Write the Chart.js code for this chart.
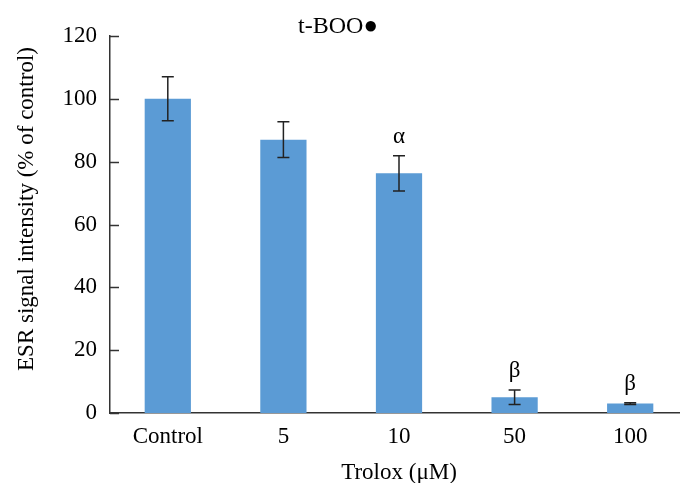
<!DOCTYPE html>
<html>
<head>
<meta charset="utf-8">
<script src="https://cdn.jsdelivr.net/npm/chart.js@4"></script>
<style>
  body { margin: 0; background: #fff; }
  #wrap { width: 680px; height: 483px; overflow: hidden; }
</style>
</head>
<body>
<div id="wrap"><canvas id="myChart" width="690" height="483"></canvas></div>
<script>
var categories = ["Control", "5", "10", "50", "100"];
var values = [100, 87, 76.3, 5, 3];
var errors = [7, 5.7, 5.6, 2.3, 0.3];
var marks = ["", "", "α", "β", "β"];
var yTicks = [0, 20, 40, 60, 80, 100, 120];

var serif = '"Liberation Serif", "Times New Roman", serif';
var ink = "#333";

// error bars, significance letters, inward y ticks and the texts
var extras = {
  id: "extras",
  afterDatasetsDraw(chart) {
    var ctx = chart.ctx;
    var y = chart.scales.y;
    var area = chart.chartArea;
    var bars = chart.getDatasetMeta(0).data;
    ctx.save();
    ctx.strokeStyle = "#222";
    ctx.lineWidth = 1.5;
    bars.forEach(function (bar, i) {
      var top = y.getPixelForValue(values[i] + errors[i]);
      var bot = y.getPixelForValue(values[i] - errors[i]);
      ctx.beginPath();
      ctx.moveTo(bar.x, top); ctx.lineTo(bar.x, bot);
      ctx.moveTo(bar.x - 6, top); ctx.lineTo(bar.x + 6, top);
      ctx.moveTo(bar.x - 6, bot); ctx.lineTo(bar.x + 6, bot);
      ctx.stroke();
      if (marks[i]) {
        ctx.fillStyle = "#000";
        ctx.font = "23px " + serif;
        ctx.textAlign = "center";
        ctx.textBaseline = "middle";
        ctx.fillText(marks[i], bar.x, top - 19);
      }
    });
    ctx.strokeStyle = ink;
    ctx.lineWidth = 1.5;
    yTicks.forEach(function (v) {
      var py = Math.round(y.getPixelForValue(v)) + 0.5;
      ctx.beginPath();
      ctx.moveTo(area.left, py); ctx.lineTo(area.left + 9, py);
      ctx.stroke();
    });
    ctx.fillStyle = "#000";
    ctx.textAlign = "center";
    ctx.textBaseline = "alphabetic";
    ctx.font = "24px " + serif;
    ctx.fillText("t-BOO●", 338, 33);
    ctx.font = "23px " + serif;
    ctx.fillText("Trolox (μM)", (area.left + area.right) / 2, 479);
    ctx.translate(33, 209);
    ctx.rotate(-Math.PI / 2);
    ctx.fillText("ESR signal intensity (% of control)", 0, 0);
    ctx.restore();
  }
};

new Chart("myChart", {
  type: "bar",
  data: {
    labels: categories,
    datasets: [{
      data: values,
      backgroundColor: "#5B9BD5",
      categoryPercentage: 1,
      barPercentage: 0.4
    }]
  },
  options: {
    responsive: false,
    animation: false,
    layout: { padding: { top: 36, right: 2, left: 0, bottom: 0 } },
    plugins: { legend: { display: false }, tooltip: { enabled: false } },
    scales: {
      x: {
        grid: { display: false, drawTicks: false },
        border: { display: true, color: ink, width: 1.5 },
        ticks: { color: "#000", font: { family: serif, size: 23 }, padding: 10 },
        afterFit: function (s) { s.height = 70; }
      },
      y: {
        min: 0, max: 120,
        grid: { display: false, drawTicks: false },
        border: { display: true, color: ink, width: 1.5 },
        ticks: { stepSize: 20, color: "#000", font: { family: serif, size: 23 }, padding: 13 },
        afterFit: function (s) { s.width = 110; }
      }
    }
  },
  plugins: [extras]
});
</script>
</body>
</html>
